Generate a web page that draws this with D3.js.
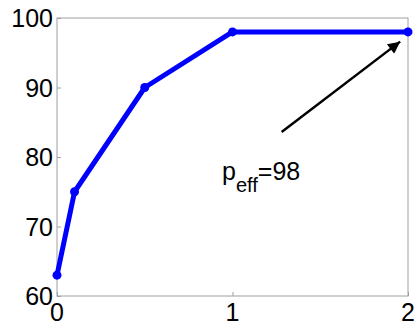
<!DOCTYPE html>
<html>
  <head>
    <script src="https://d3js.org/d3.v7.min.js"></script>
    <style>
      body { margin: 0; background: #fff; }
      text { font-family: "Liberation Sans", Arial, sans-serif; fill: #000; }
    </style>
  </head>
  <body>
    <svg width="416" height="325"></svg>
    <script>
      // data
      var xVals = [0, 0.1, 0.5, 1, 2];
      var yVals = [63, 75, 90, 98, 98];
      var xTicks = [0, 1, 2];
      var yTicks = [60, 70, 80, 90, 100];
      var arrowFrom = [1.28, 83.6];
      var arrowTo = [1.955, 96.6];
      var label = { main: "p", sub: "eff", rest: "=98" };

      var svg = d3.select("svg");
      var padL = 57, padR = 408, padT = 18, padB = 296;

      var x = d3.scaleLinear().domain([0, 2]).range([padL, padR]);
      var y = d3.scaleLinear().domain([60, 100]).range([padB, padT]);

      // frame box
      svg.append("rect")
        .attr("x", padL).attr("y", padT)
        .attr("width", padR - padL).attr("height", padB - padT)
        .attr("fill", "none").attr("stroke", "#a0a0a0").attr("stroke-width", 1);

      // y axis (ticks inside)
      var yAxis = svg.append("g")
        .attr("transform", "translate(" + padL + ",0)")
        .call(d3.axisRight(y).tickValues(yTicks).tickSize(4).tickFormat(""));
      yAxis.select(".domain").remove();
      yAxis.selectAll("line").attr("stroke", "#a0a0a0");
      svg.append("g").selectAll("text").data(yTicks).enter().append("text")
        .attr("x", padL - 4).attr("y", function (d) { return y(d); })
        .attr("dy", "0.36em").attr("text-anchor", "end")
        .style("font-size", "25px").text(function (d) { return d; });

      // x axis (ticks inside)
      var xAxis = svg.append("g")
        .attr("transform", "translate(0," + padB + ")")
        .call(d3.axisTop(x).tickValues(xTicks).tickSize(4).tickFormat(""));
      xAxis.select(".domain").remove();
      xAxis.selectAll("line").attr("stroke", "#a0a0a0");
      svg.append("g").selectAll("text").data(xTicks).enter().append("text")
        .attr("x", function (d) { return x(d); }).attr("y", 321)
        .attr("text-anchor", "middle")
        .style("font-size", "25px").text(function (d) { return d; });

      // line + markers
      var pts = xVals.map(function (v, i) { return [v, yVals[i]]; });
      svg.append("path").datum(pts)
        .attr("fill", "none").attr("stroke", "#0000ff").attr("stroke-width", 5)
        .attr("stroke-linejoin", "round")
        .attr("d", d3.line().x(function (d) { return x(d[0]); }).y(function (d) { return y(d[1]); }));
      svg.append("g").selectAll("circle").data(pts).enter().append("circle")
        .attr("cx", function (d) { return x(d[0]); })
        .attr("cy", function (d) { return y(d[1]); })
        .attr("r", 4.5).attr("fill", "#0000ff");

      // arrow
      svg.append("defs").append("marker")
        .attr("id", "head").attr("viewBox", "0 0 10 10")
        .attr("refX", 10).attr("refY", 5)
        .attr("markerWidth", 14).attr("markerHeight", 12)
        .attr("markerUnits", "userSpaceOnUse").attr("orient", "auto")
        .append("path").attr("d", "M0,0 L10,5 L0,10 z").attr("fill", "#000");
      svg.append("line")
        .attr("x1", x(arrowFrom[0])).attr("y1", y(arrowFrom[1]))
        .attr("x2", x(arrowTo[0])).attr("y2", y(arrowTo[1]))
        .attr("stroke", "#000").attr("stroke-width", 2.5)
        .attr("marker-end", "url(#head)");

      // annotation text
      var t = svg.append("text")
        .attr("x", 222).attr("y", 180).style("font-size", "25px");
      t.append("tspan").text(label.main);
      t.append("tspan").attr("dy", 12).style("font-size", "20px").text(label.sub);
      t.append("tspan").attr("dy", -12).text(label.rest);
    </script>
  </body>
</html>
